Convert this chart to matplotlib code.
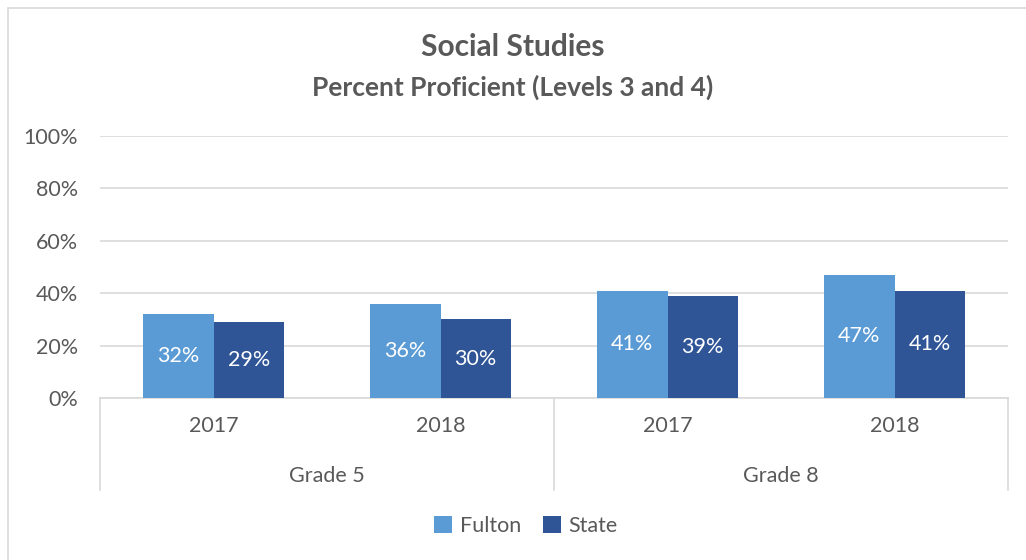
import numpy as np
import matplotlib.pyplot as plt
from matplotlib.lines import Line2D
from matplotlib.patches import Rectangle
from matplotlib.transforms import blended_transform_factory

plt.rcParams['font.family'] = ['Lato', 'DejaVu Sans']

# data
grades = ['Grade 5', 'Grade 8']
years = ['2017', '2018', '2017', '2018']
fulton = [32, 36, 41, 47]
state = [29, 30, 39, 41]

text_color = '#595959'
grid_color = '#D9D9D9'
fulton_color = '#5B9BD5'
state_color = '#2F5597'
fs = 15.5

fig = plt.figure(figsize=(10.26, 5.6), dpi=100)
ax = fig.add_axes([100 / 1026, 162 / 560, 908 / 1026, 262 / 560])

# chart border
fig.add_artist(Rectangle((8 / 1026, -0.01), 1.1, 1 - 8 / 560 + 0.01, transform=fig.transFigure,
                         fill=False, edgecolor=grid_color, linewidth=1.2))

x = np.arange(len(fulton))
w = 0.31
b1 = ax.bar(x - w / 2, fulton, w, color=fulton_color, zorder=3)
b2 = ax.bar(x + w / 2, state, w, color=state_color, zorder=3)

# value labels, centred in the bars
for bars, vals in [(b1, fulton), (b2, state)]:
    for bar, v in zip(bars, vals):
        ax.text(bar.get_x() + bar.get_width() / 2, v / 2, f'{v}%', ha='center', va='center',
                color='white', fontsize=fs, zorder=4)

ax.set_xlim(-0.5, len(fulton) - 0.5)
ax.set_ylim(0, 100)
ax.set_yticks(range(0, 101, 20))
ax.set_yticklabels([f'{t}%' for t in range(0, 101, 20)])
ax.yaxis.grid(True, color=grid_color, linewidth=1.2, zorder=0)
ax.set_axisbelow(True)

ax.set_xticks(x)
ax.set_xticklabels(years)
ax.tick_params(axis='both', length=0, labelsize=fs, colors=text_color)
ax.tick_params(axis='x', pad=13)
ax.tick_params(axis='y', pad=16)
for s in ['top', 'right', 'left']:
    ax.spines[s].set_visible(False)
ax.spines['bottom'].set_color(grid_color)
ax.spines['bottom'].set_linewidth(1.2)

# multi-level category axis
tr = blended_transform_factory(ax.transData, fig.transFigure)
for xs in [-0.5, 1.5, 3.5]:
    fig.add_artist(Line2D([xs, xs], [162 / 560, 70 / 560], transform=tr,
                          color=grid_color, linewidth=1.2))
for i, g in enumerate(grades):
    fig.text(2 * i + 0.5, 84 / 560, g, transform=tr,
             ha='center', va='center', fontsize=fs, color=text_color)

fig.text(0.5, 1 - 47 / 560, 'Social Studies', ha='center', va='center',
         fontsize=21.5, fontweight='bold', color=text_color)
fig.text(0.5, 1 - 87 / 560, 'Percent Proficient (Levels 3 and 4)', ha='center', va='center',
         fontsize=19, fontweight='bold', color=text_color)

fig.legend([b1, b2], ['Fulton', 'State'], loc='center', bbox_to_anchor=(526 / 1026, 34 / 560),
           ncol=2, frameon=False, fontsize=fs, labelcolor=text_color,
           handlelength=0.85, handleheight=0.85, handletextpad=0.35, columnspacing=1.0)

fig.savefig('out.png', dpi=100)
